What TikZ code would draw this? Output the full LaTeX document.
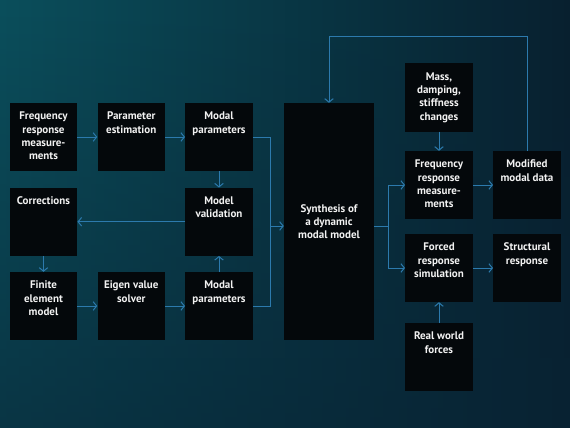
\documentclass[tikz,border=0pt]{standalone}
\usepackage{fontspec}
\setmainfont{PT Sans}
\usetikzlibrary{arrows.meta,fadings}
\definecolor{bgA}{HTML}{0B4F5C}
\definecolor{bgB}{HTML}{08202F}
\definecolor{bgC}{HTML}{082435}
\definecolor{boxfill}{HTML}{04080B}
\definecolor{linec}{HTML}{2C7AAD}
\newcommand{\bt}[1]{\parbox[t][50pt][t]{66pt}{\centering #1}}
\tikzset{
  box/.style={fill=boxfill, draw=none, inner xsep=0.75pt, inner ysep=9pt,
    minimum width=67.5pt, minimum height=68pt, text=white!95!black,
    font=\fontsize{11}{13.3}\selectfont\bfseries},
  conn/.style={draw=linec, line width=1pt},
  arr/.style={conn, -{Straight Barb[length=3.5pt,width=8.5pt,line width=1pt]}}
}
\begin{document}
\begin{tikzpicture}[x=1pt,y=-1pt]
\useasboundingbox (0,0) rectangle (570,428);
\shade[left color=bgA, right color=bgB] (0,0) rectangle (570,428);
\fill[bgC, opacity=0.6, path fading=north] (0,0) rectangle (570,428);
% left column
\node[box] (fr1) at (43.5,137) {\bt{Frequency\\response\\measure-\\ments}};
\node[box] (pe) at (131.25,137) {\bt{Parameter\\estimation}};
\node[box] (mp1) at (219,137) {\bt{Modal\\parameters}};
\node[box] (corr) at (43.5,221.75) {\bt{Corrections}};
\node[box] (mv) at (219,221.75) {\bt{Model\\validation}};
\node[box] (fe) at (43.5,306) {\bt{Finite\\element\\model}};
\node[box] (ev) at (131.25,306) {\bt{Eigen value\\solver}};
\node[box] (mp2) at (219,306) {\bt{Modal\\parameters}};
% synthesis
\node[box, minimum width=90pt, minimum height=237pt, inner ysep=0pt, align=center] (syn) at (329,221.5) {Synthesis of\\a dynamic\\modal model};
% right
\node[box] (mass) at (439,97.5) {\bt{Mass,\\damping,\\stiffness\\changes}};
\node[box] (fr2) at (439,185) {\bt{Frequency\\response\\measure-\\ments}};
\node[box] (mod) at (527,185) {\bt{Modified\\modal data}};
\node[box] (frs) at (439,268) {\bt{Forced\\response\\simulation}};
\node[box] (str) at (527,268) {\bt{Structural\\response}};
\node[box] (rwf) at (439,357) {\bt{Real world\\forces}};
% coordinates
\coordinate (jt) at (270,137);
\coordinate (jb) at (270,306);
\coordinate (jm) at (270,226);
\coordinate (rj) at (388,226);
\coordinate (rt) at (388,185);
\coordinate (rb) at (388,268);
\coordinate (ft) at (527,37);
\coordinate (fl) at (329,37);
% connectors left
\draw[arr] (fr1) -- (pe);
\draw[arr] (pe) -- (mp1);
\draw[arr] (fe) -- (ev);
\draw[arr] (ev) -- (mp2);
\draw[arr] (mp1) -- (mv);
\draw[arr] (mp2) -- (mv);
\draw[arr] (mv) -- (corr);
\draw[arr] (corr) -- (fe);
\draw[conn] (mp1.east) -- (jt) -- (jb) -- (mp2.east);
\draw[arr] (jm) -- (jm -| syn.west);
% connectors right
\draw[conn] (syn.east |- rj) -- (rj);
\draw[arr] (rt) -- (fr2.west);
\draw[arr] (rb) -- (frs.west);
\draw[conn] (rt) -- (rb);
\draw[arr] (mass) -- (fr2);
\draw[arr] (rwf) -- (frs);
\draw[arr] (fr2) -- (mod);
\draw[arr] (frs) -- (str);
\draw[arr] (mod.north) -- (ft) -- (fl) -- (syn.north);
\end{tikzpicture}
\end{document}
